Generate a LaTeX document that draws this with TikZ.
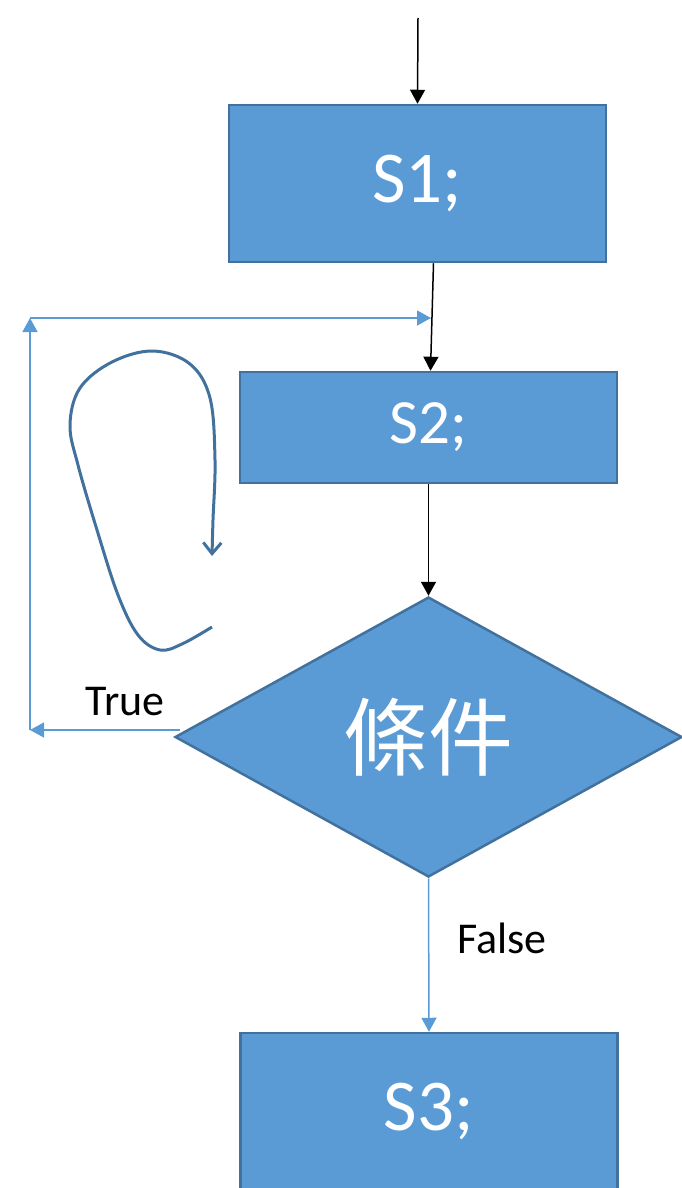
\documentclass[tikz,border=0pt]{standalone}
\usepackage{fontspec}
\setmainfont{Carlito}
\newfontfamily\cjk{Noto Sans CJK TC}
\usetikzlibrary{arrows.meta,shapes.geometric}
\definecolor{boxblue}{HTML}{5B9BD5}
\definecolor{boxedge}{HTML}{41719C}
\tikzset{
  stmt/.style={draw=boxedge, line width=2.5pt, fill=boxblue, text=white, inner sep=0pt, minimum width=377pt},
  flow/.style={-{Triangle[length=14pt,width=15pt]}, line width=1.5pt},
  loopline/.style={boxblue, line width=1.5pt, -{Triangle[length=14pt,width=15pt]}},
  lbl/.style={font=\fontsize{44}{52}\selectfont, inner sep=0pt}
}

\begin{document}
\begin{tikzpicture}[x=1pt,y=-1pt]
	\useasboundingbox (0,0) rectangle (682,1188);

	\node[stmt, minimum height=157pt, font=\fontsize{73}{86}\selectfont] (s1) at (417.5,183.5) {S1;};
	\node[stmt, minimum height=111pt, font=\fontsize{63}{75}\selectfont] (s2) at (428.5,427.5) {S2;};
	\node[diamond, draw=boxedge, fill=boxblue, line width=2.5pt, inner sep=0pt,
		minimum width=507pt, minimum height=280pt, text=white,
		font=\cjk\fontsize{85}{100}\selectfont] (cond) at (428.5,737) {條件};
	\node[stmt, minimum height=157pt, font=\fontsize{73}{86}\selectfont] (s3) at (429,1111.5) {S3;};

	\coordinate (start) at (418,18);
	\coordinate (bl) at (30,730);
	\coordinate (tl) at (30,318);
	\coordinate (join) at (431,318);

	\draw[flow] (start) -- (s1.north);
	\draw[flow] ([xshift=16pt]s1.south) -- ([xshift=2pt]s2.north);
	\draw[flow] (s2.south) -- (cond.north);

	\draw[loopline] ([xshift=6pt,yshift=7pt]cond.west) -- (bl);
	\draw[loopline] (bl) -- (tl);
	\draw[loopline] (tl) -- (join);
	\draw[loopline] (cond.south) -- (s3.north);

	\node[lbl] (truelbl) at (125,702) {True};
	\node[lbl] (falselbl) at (502,938) {False};

	% hand drawn repeat mark
	\draw[boxedge, line width=3pt, -{Straight Barb[length=11pt,width=18pt]}]
		plot[smooth, tension=.6] coordinates {(212,627) (182,644) (160,650) (138,635) (118,595) (97,530) (78,465) (70,425) (80,388) (112,362) (153,351) (190,364) (210,398) (215,460) (213,520) (212,556)};
\end{tikzpicture}
\end{document}
